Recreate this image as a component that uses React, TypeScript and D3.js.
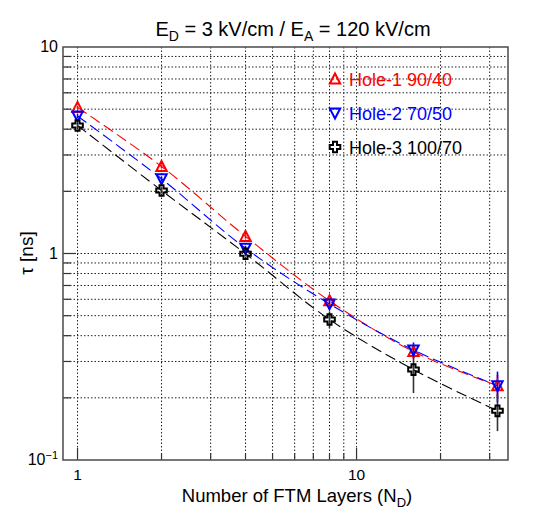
import React from "react";
import * as d3 from "d3";

const X_LAYERS = [1, 2, 4, 8, 16, 32];
const HOLE1_TAU = [5.1, 2.64, 1.21, 0.59, 0.335, 0.229];
const HOLE1_ERR = [0.1, 0.06, 0.03, 0.02, 0.025, 0.03];
const HOLE2_TAU = [4.63, 2.3, 1.06, 0.57, 0.341, 0.229];
const HOLE2_ERR = [0.1, 0.06, 0.03, 0.02, 0.03, 0.039];
const HOLE3_TAU = [4.17, 2.02, 0.997, 0.479, 0.274, 0.173];
const HOLE3_ERR = [0.12, 0.07, 0.03, 0.045, 0.063, 0.035];
const SERIES_NAMES = ["Hole-1 90/40", "Hole-2 70/50", "Hole-3 100/70"];
const SERIES_COLORS = ["#ff0000", "#0000ff", "#000000"];
const SERIES_MARKERS = ["triUp", "triDown", "cross"];

const X_GRID = [1, 2, 3, 4, 5, 6, 7, 8, 9, 10, 20, 30];
const X_MAJOR = [1, 10];
const Y_GRID = [0.2, 0.3, 0.4, 0.5, 0.6, 0.7, 0.8, 0.9, 1, 2, 3, 4, 5, 6, 7, 8, 9];
const Y_MAJOR = [0.1, 1, 10];

const FONT = "'Liberation Sans', Arial, Helvetica, sans-serif";

function Marker({ type, x, y, color }: { type: string; x: number; y: number; color: string }) {
  if (type === "triUp") {
    const p = `M${x},${y - 5.5}L${x + 5.2},${y + 4.5}L${x - 5.2},${y + 4.5}Z`;
    return <path d={p} fill="none" stroke={color} strokeWidth={2} />;
  }
  if (type === "triDown") {
    const p = `M${x},${y + 5.5}L${x + 5.2},${y - 4.5}L${x - 5.2},${y - 4.5}Z`;
    return <path d={p} fill="none" stroke={color} strokeWidth={2} />;
  }
  const o = 5.3, i = 2;
  const p = `M${x - i},${y - o}H${x + i}V${y - i}H${x + o}V${y + i}H${x + i}V${y + o}H${x - i}V${y + i}H${x - o}V${y - i}H${x - i}Z`;
  return <path d={p} fill="none" stroke={color} strokeWidth={2} />;
}

export default function App() {
  const W = 550, H = 520;
  const L = 63, R = 508, T = 47, B = 460;
  const x = d3.scaleLog().domain([0.887, 34.9]).range([L, R]);
  const y = d3.scaleLog().domain([0.1, 10]).range([B, T]);

  const series = [HOLE1_TAU, HOLE2_TAU, HOLE3_TAU].map((vals, k) => ({
    name: SERIES_NAMES[k],
    color: SERIES_COLORS[k],
    marker: SERIES_MARKERS[k],
    err: [HOLE1_ERR, HOLE2_ERR, HOLE3_ERR][k],
    pts: X_LAYERS.map((xv, i) => ({ x: xv, y: vals[i] })),
  }));

  const line = d3
    .line<{ x: number; y: number }>()
    .x((d) => x(d.x))
    .y((d) => y(d.y))
    .curve(d3.curveCatmullRom.alpha(0.5));

  const legendY = [79, 113, 147];

  return (
    <svg width={W} height={H} style={{ position: "absolute", left: 0, top: 0, background: "#fff" }} fontFamily={FONT}>
      <rect width={W} height={H} fill="#fff" />
      {/* grid */}
      {X_GRID.map((g) => (
        <line key={"gx" + g} x1={x(g)} x2={x(g)} y1={T} y2={B} stroke="#222" strokeWidth={1} strokeDasharray="1.5,2" />
      ))}
      {Y_GRID.map((g) => (
        <line key={"gy" + g} x1={L} x2={R} y1={y(g)} y2={y(g)} stroke="#222" strokeWidth={1} strokeDasharray="1.5,2" />
      ))}
      {/* ticks */}
      {X_GRID.map((g) => (
        <line key={"tx" + g} x1={x(g)} x2={x(g)} y1={B} y2={B - (X_MAJOR.includes(g) ? 12 : 7)} stroke="#333" strokeWidth={1.2} />
      ))}
      {Y_GRID.map((g) => (
        <line key={"ty" + g} x1={L} x2={L + (Y_MAJOR.includes(g) ? 13 : 8)} y1={y(g)} y2={y(g)} stroke="#333" strokeWidth={1.2} />
      ))}
      {/* frame */}
      <rect x={L} y={T} width={R - L} height={B - T} fill="none" stroke="#555" strokeWidth={1.6} />

      {/* curves */}
      {series.map((s) => (
        <path key={"l" + s.name} d={line(s.pts) || ""} fill="none" stroke={s.color} strokeWidth={1.1} strokeDasharray="11,5" />
      ))}
      {/* error bars */}
      {series.map((s) =>
        s.pts.map((p, i) => (
          <line
            key={"e" + s.name + i}
            x1={x(p.x)}
            x2={x(p.x)}
            y1={y(p.y + s.err[i])}
            y2={y(p.y - s.err[i])}
            stroke={s.color === "#000000" ? "#333" : s.color}
            strokeWidth={1.6}
          />
        ))
      )}
      {/* markers */}
      {series.map((s) =>
        s.pts.map((p, i) => <Marker key={"m" + s.name + i} type={s.marker} x={x(p.x)} y={y(p.y)} color={s.color} />)
      )}

      {/* legend */}
      {series.map((s, k) => (
        <g key={"lg" + k}>
          <Marker type={s.marker} x={335} y={legendY[k]} color={s.color} />
          <text x={349} y={legendY[k] + 6.5} fontSize={18} fill={s.color}>
            {s.name}
          </text>
        </g>
      ))}

      {/* y tick labels */}
      <text x={58} y={52} fontSize={16} textAnchor="end" fill="#000">10</text>
      <text x={58} y={258.5} fontSize={16} textAnchor="end" fill="#000">1</text>
      <text x={58} y={465} fontSize={16} textAnchor="end" fill="#000">
        10<tspan dy={-6} fontSize={11}>−1</tspan>
      </text>
      {/* x tick labels */}
      {X_MAJOR.map((m) => (
        <text key={"xl" + m} x={x(m)} y={480} fontSize={15.5} textAnchor="middle" fill="#000">
          {m}
        </text>
      ))}

      {/* axis titles */}
      <text x={297} y={502} fontSize={18.5} textAnchor="middle" fill="#000">
        Number of FTM Layers (N<tspan dy={5} fontSize={13}>D</tspan>
        <tspan dy={-5}>)</tspan>
      </text>
      <text transform="translate(33,253) rotate(-90)" fontSize={19} textAnchor="middle" fill="#000">
        τ [ns]
      </text>

      {/* title */}
      <text x={293} y={36} fontSize={20} textAnchor="middle" fill="#000">
        E<tspan dy={5} fontSize={14}>D</tspan>
        <tspan dy={-5}> = 3 kV/cm / E</tspan>
        <tspan dy={5} fontSize={14}>A</tspan>
        <tspan dy={-5}> = 120 kV/cm</tspan>
      </text>
    </svg>
  );
}
